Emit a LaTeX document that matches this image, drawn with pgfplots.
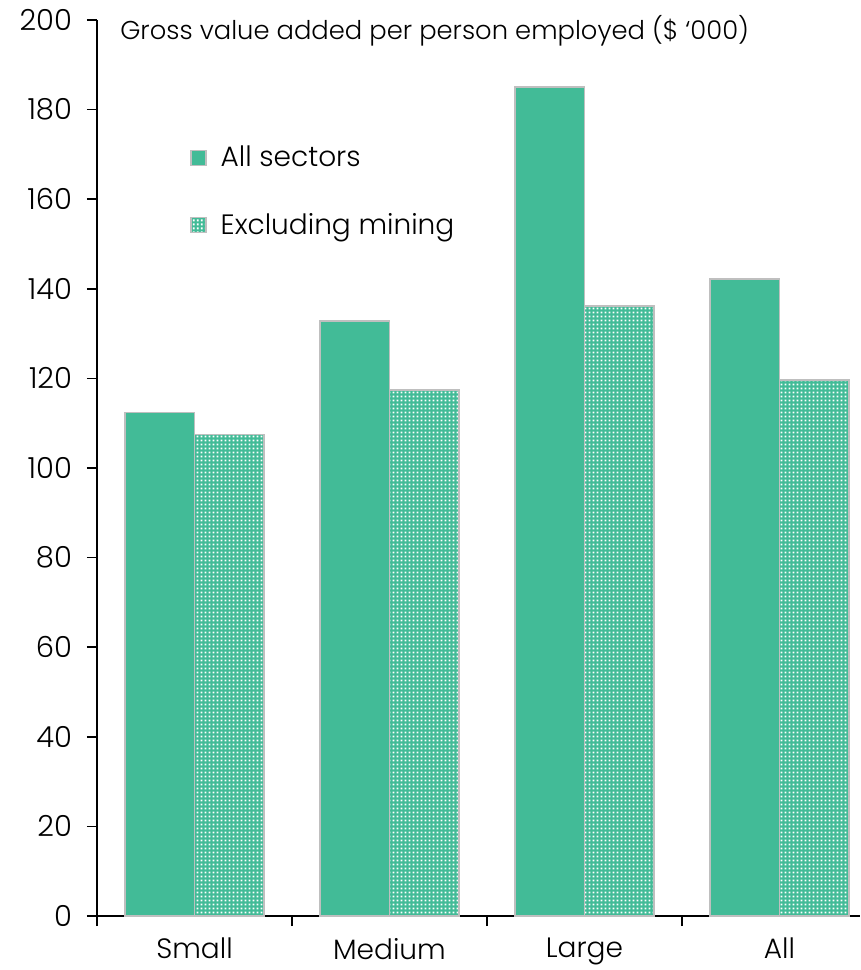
\documentclass[border=0pt]{standalone}
\usepackage{pgfplots}
\pgfplotsset{compat=1.18}
\usepackage{fontspec}
\setmainfont{Poppins Light}
\usetikzlibrary{patterns.meta}

\definecolor{bargreen}{HTML}{42BB97}
\definecolor{edgegray}{HTML}{BFBFBF}

% white dot grid laid over the green fill
\tikzdeclarepattern{
  name=whitegrid,
  type=uncolored,
  bottom left={(0pt,0pt)},
  top right={(2pt,2pt)},
  tile size={(2pt,2pt)},
  code={\pgfpathrectangle{\pgfpoint{0.45pt}{0.4pt}}{\pgfpoint{1.05pt}{1.15pt}}\pgfusepath{fill}}
}

\pgfplotstableread{
x all excl
0 112.4 107.5
1 132.8 117.4
2 185.0 136.2
3 142.2 119.6
}\gvadata

\begin{document}
\begin{tikzpicture}
\begin{axis}[
  scale only axis,
  width=381.5pt, height=448pt,
  xmin=-0.5, xmax=3.413,
  ymin=0, ymax=200,
  axis lines=left,
  axis line style={-, black, line width=0.8pt},
  tick align=outside,
  major tick length=5pt,
  tick style={black, line width=0.8pt},
  xtick={-0.5,0.5,1.5,2.5},
  xticklabels={},
  extra x ticks={0,1,2,3},
  extra x tick labels={Small,Medium,Large,All},
  extra x tick style={major tick length=0pt, tick label style={yshift=-7.5pt}},
  ytick={0,20,...,200},
  /pgf/number format/assume math mode=true,
  xticklabel style={font=\fontsize{14}{16}\selectfont},
  yticklabel style={font=\fontsize{14.5}{16}\selectfont, xshift=-4pt},
  ybar, bar width=0.356,
  legend style={draw=none, fill=none, at={(rel axis cs:0.122,0.864)}, anchor=north west,
    font=\fontsize{14}{16}\selectfont, row sep=17.5pt, inner sep=0pt,
    /tikz/every even column/.append style={column sep=8pt}},
  legend cell align=left,
  legend image code/.code={\draw[#1, draw=edgegray, line width=0.6pt] (0pt,-3.75pt) rectangle (7.5pt,3.75pt);},
  clip=false,
]
\addplot[fill=bargreen, draw=edgegray, line width=0.8pt, bar shift=-0.178] table[x=x, y=all] {\gvadata};
\addlegendentry{\hspace{5pt}All sectors}
\addplot[fill=bargreen, draw=edgegray, line width=0.8pt, bar shift=0.178,
  postaction={pattern={whitegrid}, pattern color=white}] table[x=x, y=excl] {\gvadata};
\addlegendentry{\hspace{5pt}Excluding mining}
\node[anchor=west, font=\fontsize{12.9}{14}\selectfont, inner sep=0pt] at (rel axis cs:0.03,0.988) {Gross value added per person employed (\$ ‘000)};
\coordinate (sw) at (rel axis cs:0,0);
\coordinate (ne) at (rel axis cs:1,1);
\end{axis}
\pgfresetboundingbox
\path ([xshift=-48.5pt,yshift=-27pt]sw) rectangle ([yshift=10pt]ne);
\end{tikzpicture}
\end{document}
